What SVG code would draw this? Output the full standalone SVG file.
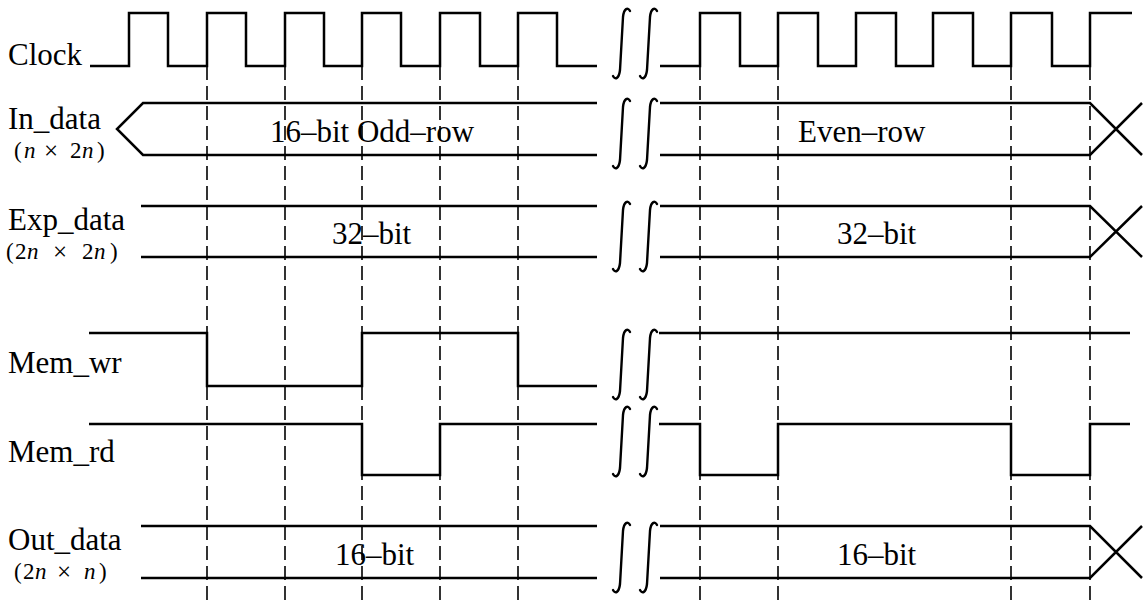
<svg xmlns="http://www.w3.org/2000/svg" xmlns:xlink="http://www.w3.org/1999/xlink" width="1148" height="603" viewBox="0 0 1148 603">
<style>
.sig{fill:none;stroke:#000;stroke-width:2.5;stroke-linejoin:miter;stroke-linecap:butt}
.dash{fill:none;stroke:#000;stroke-width:1.6;stroke-dasharray:14 6}
.brk{fill:none;stroke:#000;stroke-width:2.4;stroke-linecap:round}
.lbl{font-family:"Liberation Serif","Times New Roman",serif;font-size:31px;fill:#000}
.sub{font-family:"Liberation Serif","Times New Roman",serif;font-size:23px;fill:#000}
.x{font-size:25px}
.it{font-style:italic}
.dat{font-family:"Liberation Serif","Times New Roman",serif;font-size:31px;fill:#000}
</style>
<defs>
<path id="brk" class="brk" d="M17,4 C15,0 11,1 10,10 L7,63 C6,72 2,73 0,69"/>
</defs>
<rect width="1148" height="603" fill="#fff"/>
<g id="connectors">
<path class="dash" d="M207,66 V603 M285,66 V603 M362,66 V603 M440,66 V603 M518,66 V603 M700,66 V603 M778,66 V603 M1011,66 V603 M1090,66 V603"/>
</g>
<g id="clock">
<text class="lbl" x="8" y="65">Clock</text>
<path class="sig" d="M90,66 H129 V13 H168 V66 H207 V13 H246 V66 H285 V13 H324 V66 H362 V13 H401 V66 H440 V13 H480 V66 H518 V13 H557 V66 H597"/>
<path class="sig" d="M660,66 H700 V13 H740 V66 H778 V13 H818 V66 H856 V13 H896 V66 H933 V13 H973 V66 H1011 V13 H1052 V66 H1090 V13 H1132"/>
<use xlink:href="#brk" x="613" y="7"/><use xlink:href="#brk" x="640" y="7"/>
</g>
<g id="in_data">
<text class="lbl" x="8" y="129">In_data</text>
<text class="sub" x="14" y="158">(</text><text class="sub it" x="24" y="158">n</text><text class="sub x" x="44" y="159">×</text><text class="sub" x="70" y="158">2</text><text class="sub it" x="82" y="158">n</text><text class="sub" x="97" y="158">)</text>
<path class="sig" d="M597,103 H143 L117,129 L143,155 H597"/>
<path class="sig" d="M660,103 H1090 L1142,155 M660,155 H1090 L1142,103"/>
<text class="dat" x="270" y="142">16–bit Odd–row</text>
<text class="dat" x="798" y="142">Even–row</text>
<use xlink:href="#brk" x="613" y="97"/><use xlink:href="#brk" x="640" y="97"/>
</g>
<g id="exp_data">
<text class="lbl" x="8" y="230">Exp_data</text>
<text class="sub" x="6" y="259">(</text><text class="sub" x="15" y="259">2</text><text class="sub it" x="27" y="259">n</text><text class="sub x" x="53" y="260">×</text><text class="sub" x="82" y="259">2</text><text class="sub it" x="94" y="259">n</text><text class="sub" x="110" y="259">)</text>
<path class="sig" d="M141,206 H597 M141,257 H597"/>
<path class="sig" d="M660,206 H1090 L1142,257 M660,257 H1090 L1142,206"/>
<text class="dat" x="332" y="244">32–bit</text>
<text class="dat" x="837" y="244">32–bit</text>
<use xlink:href="#brk" x="613" y="200"/><use xlink:href="#brk" x="640" y="200"/>
</g>
<g id="mem_wr">
<text class="lbl" x="8" y="373">Mem_wr</text>
<path class="sig" d="M89,333 H207 V386 H362 V333 H518 V386 H597"/>
<path class="sig" d="M659,333 H1130"/>
<use xlink:href="#brk" x="613" y="328"/><use xlink:href="#brk" x="640" y="328"/>
</g>
<g id="mem_rd">
<text class="lbl" x="8" y="462">Mem_rd</text>
<path class="sig" d="M89,424 H362 V475 H440 V424 H597"/>
<path class="sig" d="M659,424 H700 V475 H778 V424 H1011 V475 H1090 V424 H1130"/>
<use xlink:href="#brk" x="613" y="405"/><use xlink:href="#brk" x="640" y="405"/>
</g>
<g id="out_data">
<text class="lbl" x="8" y="550">Out_data</text>
<text class="sub" x="14" y="579">(</text><text class="sub" x="23" y="579">2</text><text class="sub it" x="35" y="579">n</text><text class="sub x" x="57" y="580">×</text><text class="sub it" x="84" y="579">n</text><text class="sub" x="99" y="579">)</text>
<path class="sig" d="M141,526 H597 M141,578 H597"/>
<path class="sig" d="M660,526 H1090 L1142,578 M660,578 H1090 L1142,526"/>
<text class="dat" x="335" y="565">16–bit</text>
<text class="dat" x="837" y="565">16–bit</text>
<use xlink:href="#brk" x="613" y="521"/><use xlink:href="#brk" x="640" y="521"/>
</g>
</svg>
